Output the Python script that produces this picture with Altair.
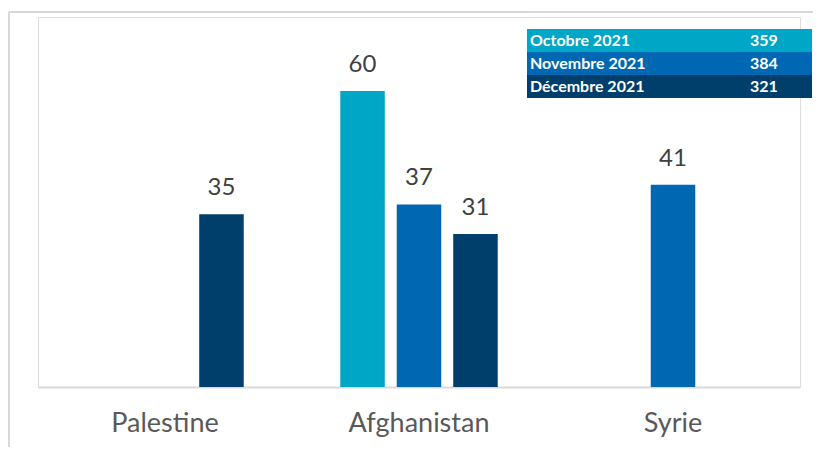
import altair as alt
import pandas as pd

countries = ["Palestine", "Afghanistan", "Syrie"]
months = ["Octobre 2021", "Novembre 2021", "Décembre 2021"]
colors = ["#00A6C6", "#0068B2", "#003F6C"]
totals = [359, 384, 321]

bar_country = ["Palestine", "Afghanistan", "Afghanistan", "Afghanistan", "Syrie"]
bar_month = ["Décembre 2021", "Octobre 2021", "Novembre 2021", "Décembre 2021", "Novembre 2021"]
bar_value = [35, 60, 37, 31, 41]

df = pd.DataFrame({"country": bar_country, "month": bar_month, "value": bar_value})
leg = pd.DataFrame({"month": months, "total": totals})

FONT = "Lato"

x = alt.X("country:N", sort=countries, scale=alt.Scale(paddingInner=0.333, paddingOuter=0.1665),
          axis=alt.Axis(title=None, labelAngle=0, ticks=False, labelFontSize=27, labelColor="#595959",
                        labelFont=FONT, labelPadding=23, domainColor="#D9D9D9", domainWidth=2))
xo = alt.XOffset("month:N", scale=alt.Scale(domain=months, paddingInner=0.212, paddingOuter=0.106))
color = alt.Color("month:N", scale=alt.Scale(domain=months, range=colors), legend=None)
y = alt.Y("value:Q", scale=alt.Scale(domain=[0, 75]), axis=None)

bars = alt.Chart(df).mark_bar().encode(x=x, xOffset=xo, y=y, color=color)
labels = alt.Chart(df).mark_text(fontSize=24, color="#404040", font=FONT, baseline="alphabetic", dy=-19).encode(
    x=x, xOffset=xo, y=y, text="value:Q")

frame = alt.Data(values=[{}])
border_top = alt.Chart(frame).mark_rule(stroke="#D9D9D9", strokeWidth=2).encode(
    x=alt.value(-29), x2=alt.value(790), y=alt.value(-5))
border_left = alt.Chart(frame).mark_rule(stroke="#D9D9D9", strokeWidth=2).encode(
    x=alt.value(-29), y=alt.value(-5), y2=alt.value(430))

ly = alt.Y("month:N", sort=months, scale=alt.Scale(domain=months, range=[12, 81], paddingInner=0, paddingOuter=0), axis=None)
leg_rect = alt.Chart(leg).mark_rect().encode(
    x=alt.value(489), x2=alt.value(774), y=ly, color=color)
leg_name = alt.Chart(leg).mark_text(align="left", baseline="middle", color="white", fontWeight="bold",
                                     fontSize=16, font=FONT).encode(x=alt.value(492), y=ly, text="month:N")
leg_tot = alt.Chart(leg).mark_text(align="left", baseline="middle", color="white", fontWeight="bold",
                                    fontSize=16, font=FONT).encode(x=alt.value(712), y=ly, text="total:Q")

main = alt.layer(bars, labels)
legend_layer = alt.layer(leg_rect, leg_name, leg_tot)

chart = alt.layer(border_top, border_left, main, legend_layer).resolve_scale(y="independent").properties(
    width=762, height=370,
    autosize=alt.AutoSizeParams(type="none"),
    padding={"left": 30, "top": 9, "right": 13, "bottom": 60},
).configure_view(stroke=None).configure(background="white")

chart.save("out.html", embed_options={"renderer": "svg", "actions": False})
